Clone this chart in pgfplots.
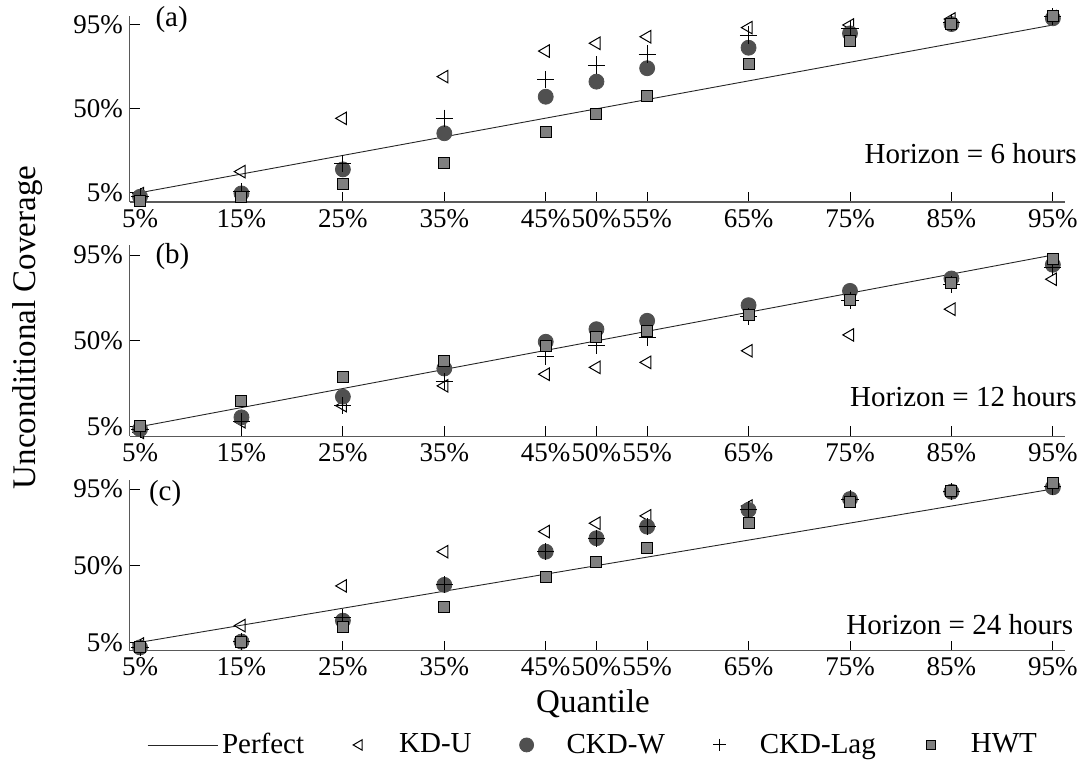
\documentclass[border=0pt]{standalone}
\usepackage{fontspec}
\setmainfont{Liberation Serif}
\usepackage{pgfplots}
\usepackage{pgfplotstable}
\pgfplotsset{compat=1.18}
\definecolor{cirfill}{RGB}{80,80,80}
\definecolor{sqfill}{RGB}{128,128,128}

\pgfplotstableread{
x  kdu   ckdw  lag   hwt
5  4.5   2.8   3.0   0.7
15 16.3  4.6   5.5   2.8
25 44.9  17.5  20.7  9.7
35 67.3  36.9  44.9  20.7
45 81.0  56.5  65.8  37.7
50 85.2  64.6  73.5  47.1
55 88.7  71.8  79.4  56.9
65 93.6  82.8  89.6  73.9
75 95.0  90.5  93.2  86.4
85 98.2  95.5  96.2  95.4
95 99.5  98.6  99.5  100
}\tabA
\pgfplotstableread{
x  kdu   ckdw  lag   hwt
5  2.0   3.7   3.7   5.5
15 7.6   9.9   7.6   18.6
25 16.0  20.7  15.9  30.8
35 26.4  35.5  28.5  39.2
45 32.5  49.5  41.8  47.4
50 36.1  56.1  47.4  51.8
55 38.7  60.5  51.8  55.2
65 44.8  68.7  62.6  63.5
75 53.1  76.2  71.3  71.3
85 66.6  82.7  79.7  80.2
95 82.3  89.9  88.7  92.7
}\tabB
\pgfplotstableread{
x  kdu   ckdw  lag   hwt
5  4.0   2.0   2.0   2.1
15 14.8  5.4   5.4   5.4
25 38.1  17.7  19.7  13.8
35 58.2  38.7  38.7  25.9
45 70.0  58.2  58.2  43.2
50 74.9  66.1  66.1  52.0
55 79.2  72.9  72.9  60.6
65 85.0  82.7  82.7  74.9
75 89.1  89.1  89.1  87.2
85 93.4  93.4  93.4  94.0
95 96.6  96.0  96.6  98.4
}\tabC

\pgfplotsset{
  panel/.style={
    scale only axis, width=467.55pt,
    xmin=4, xmax=96.2, ymin=0, ymax=100,
    axis x line*=bottom, axis y line*=left,
    axis line style={black!65, line width=0.6pt},
    xtick={5,15,25,35,45,50,55,65,75,85,95},
    xticklabels={5\%,15\%,25\%,35\%,45\%,50\%,55\%,65\%,75\%,85\%,95\%},
    ytick={5,50,95}, yticklabels={5\%,50\%,95\%},
    tick align=inside, major tick length=5pt,
    tick style={black, line width=0.5pt},
    ticklabel style={font=\fontsize{13.5}{16}\selectfont},
    /pgf/number format/assume math mode=true,
    clip=false,
  },
  mkimg/.style={legend image code/.code={%
      \path[draw=none, fill=none] (-12pt,-1pt) rectangle (18pt,1pt);
      \draw[mark repeat=3, mark phase=2, ##1] plot coordinates {(-12pt,0pt) (0pt,0pt) (18pt,0pt)};}},
  lnimg/.style={legend image code/.code={\draw[##1] (0pt,0pt) -- (35pt,0pt);}},
  perf/.style={black!85, line width=0.45pt},
  kdu/.style={only marks, black, mark=triangle, mark size=3.6pt, mark options={rotate=90, line width=0.5pt, fill=none}},
  ckdw/.style={only marks, mark=*, mark size=3.75pt, mark options={draw=cirfill, fill=cirfill}},
  lag/.style={only marks, black, mark=+, mark size=4.3pt, mark options={line width=0.5pt}},
  hwt/.style={only marks, mark=square*, mark size=2.75pt, mark options={draw=black, fill=sqfill, line width=0.5pt}},
}

\newcommand{\panelplots}[1]{%
  \addplot[perf, forget plot] coordinates {(5,5) (95,95)};
  \addplot[kdu, forget plot] table[x=x, y=kdu] {#1};
  \addplot[ckdw, forget plot] table[x=x, y=ckdw] {#1};
  \addplot[lag, forget plot] table[x=x, y=lag] {#1};
  \addplot[hwt, forget plot] table[x=x, y=hwt] {#1};
}

\begin{document}
\begin{tikzpicture}
\useasboundingbox (0,0) rectangle (541.5pt,382pt);
\tikzset{txt/.style={font=\fontsize{14.5}{17}\selectfont, inner sep=0pt}}

% panel (a)
\begin{axis}[panel, height=93.15pt, at={(64.95pt,281pt)}, anchor=south west]
  \panelplots{\tabA}
  \node[txt, anchor=west] at (rel axis cs:0.027,0.977) {(a)};
  \node[txt, anchor=base east] at (rel axis cs:1.013,0.204) {Horizon = 6 hours};
\end{axis}

% panel (b)
\begin{axis}[panel, height=95.35pt, at={(64.95pt,163.9pt)}, anchor=south west]
  \panelplots{\tabB}
  \node[txt, anchor=west] at (rel axis cs:0.027,0.941) {(b)};
  \node[txt, anchor=base east] at (rel axis cs:1.013,0.155) {Horizon = 12 hours};
\end{axis}

% panel (c)
\begin{axis}[panel, height=85.15pt, at={(64.95pt,56.6pt)}, anchor=south west,
  legend columns=5,
  legend style={at={(0.018,-0.553)}, anchor=west, draw=none, fill=none, inner sep=0pt,
    font=\fontsize{14.5}{17}\selectfont,
    /tikz/every even column/.append style={column sep=13.5pt}},
  legend cell align=left]
  \panelplots{\tabC}
  \node[txt, anchor=west] at (rel axis cs:0.02,0.925) {(c)};
  \node[txt, anchor=base east] at (rel axis cs:1.009,0.093) {Horizon = 24 hours};
  \addlegendimage{perf, lnimg}
  \addlegendentry{Perfect}
  \addlegendimage{kdu, mkimg, mark size=3pt}
  \addlegendentry{KD-U}
  \addlegendimage{ckdw, mkimg, mark size=3.5pt}
  \addlegendentry{CKD-W}
  \addlegendimage{lag, mkimg, mark size=3.2pt}
  \addlegendentry{CKD-Lag}
  \addlegendimage{hwt, mkimg, mark size=2.2pt}
  \addlegendentry{HWT}
\end{axis}

\node[rotate=90, font=\fontsize{16.5}{19}\selectfont] at (14pt,218.25pt) {Unconditional Coverage};
\node[anchor=base, font=\fontsize{16.5}{19}\selectfont] at (296.5pt,25.5pt) {Quantile};
\end{tikzpicture}
\end{document}
